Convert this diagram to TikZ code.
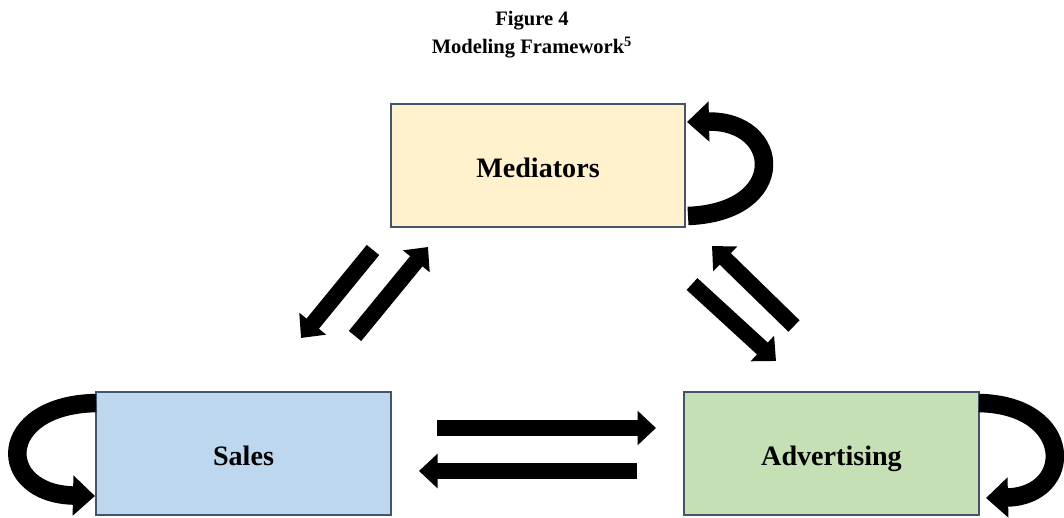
\documentclass[tikz,border=0pt]{standalone}
\usepackage{fontspec}
\setmainfont{Liberation Serif}
\usetikzlibrary{arrows.meta,positioning}

\definecolor{boxline}{RGB}{68,84,106}
\definecolor{medfill}{RGB}{255,242,204}
\definecolor{salfill}{RGB}{189,215,238}
\definecolor{advfill}{RGB}{197,224,180}

\begin{document}
\begin{tikzpicture}[
  x=0.02cm, y=-0.02cm,
  block/.style={
    rectangle, draw=boxline, line width=0.04cm,
    minimum width=5.9cm, minimum height=2.48cm,
    text height=14pt, text depth=0pt,
    font=\fontsize{16}{19}\selectfont\bfseries
  },
  ttl/.style={anchor=base, font=\fontsize{11.7}{14}\selectfont\bfseries},
  bigarr/.style={line width=0.32cm, -{Triangle[length=0.37cm, width=0.67cm]}},
  looparr/.style={line width=0.37cm, -{Triangle[length=0.44cm, width=0.78cm]}}
]
\useasboundingbox (0,0) rectangle (1064,517);

% -- Titulo --
\node[ttl] (fig)   at (532,26) {Figure 4};
\node[ttl] (frame) at (532,54) {Modeling Framework\textsuperscript{5}};

% -- Caixas --
\node[block, fill=medfill] (med) at (538,165.5) {Mediators};
\node[block, fill=salfill] (sal) at (243.5,453.5) {Sales};
\node[block, fill=advfill] (adv) at (831.5,453.5) {Advertising};

% -- Pontas das setas --
\coordinate (sa1) at (437,428);
\coordinate (sa2) at (656,428);
\coordinate (as1) at (637,471);
\coordinate (as2) at (419,471);

\coordinate (ms1) at (373,250);
\coordinate (ms2) at (301,338);
\coordinate (sm1) at (355,336);
\coordinate (sm2) at (428,247);

\coordinate (am1) at (794,326);
\coordinate (am2) at (712,246);
\coordinate (ma1) at (692,284);
\coordinate (ma2) at (776,361);

% -- Pontas dos lacos --
\coordinate (medtail) at (688,216);
\coordinate (medhead) at (687,122);
\coordinate (saltail) at (96,403);
\coordinate (salhead) at (95,496);
\coordinate (advtail) at (979,403);
\coordinate (advhead) at (986,498);

% -- Conexoes --
\draw[bigarr] (sa1) -- (sa2);
\draw[bigarr] (as1) -- (as2);

\draw[bigarr] (ms1) -- (ms2);
\draw[bigarr] (sm1) -- (sm2);

\draw[bigarr] (am1) -- (am2);
\draw[bigarr] (ma1) -- (ma2);

% -- Lacos --
\draw[looparr] (medtail) .. controls (790,212) and (782,120) .. (medhead);
\draw[looparr] (saltail) .. controls (-5,405) and (-5,494) .. (salhead);
\draw[looparr] (advtail) .. controls (1075,405) and (1075,496) .. (advhead);

\end{tikzpicture}
\end{document}
